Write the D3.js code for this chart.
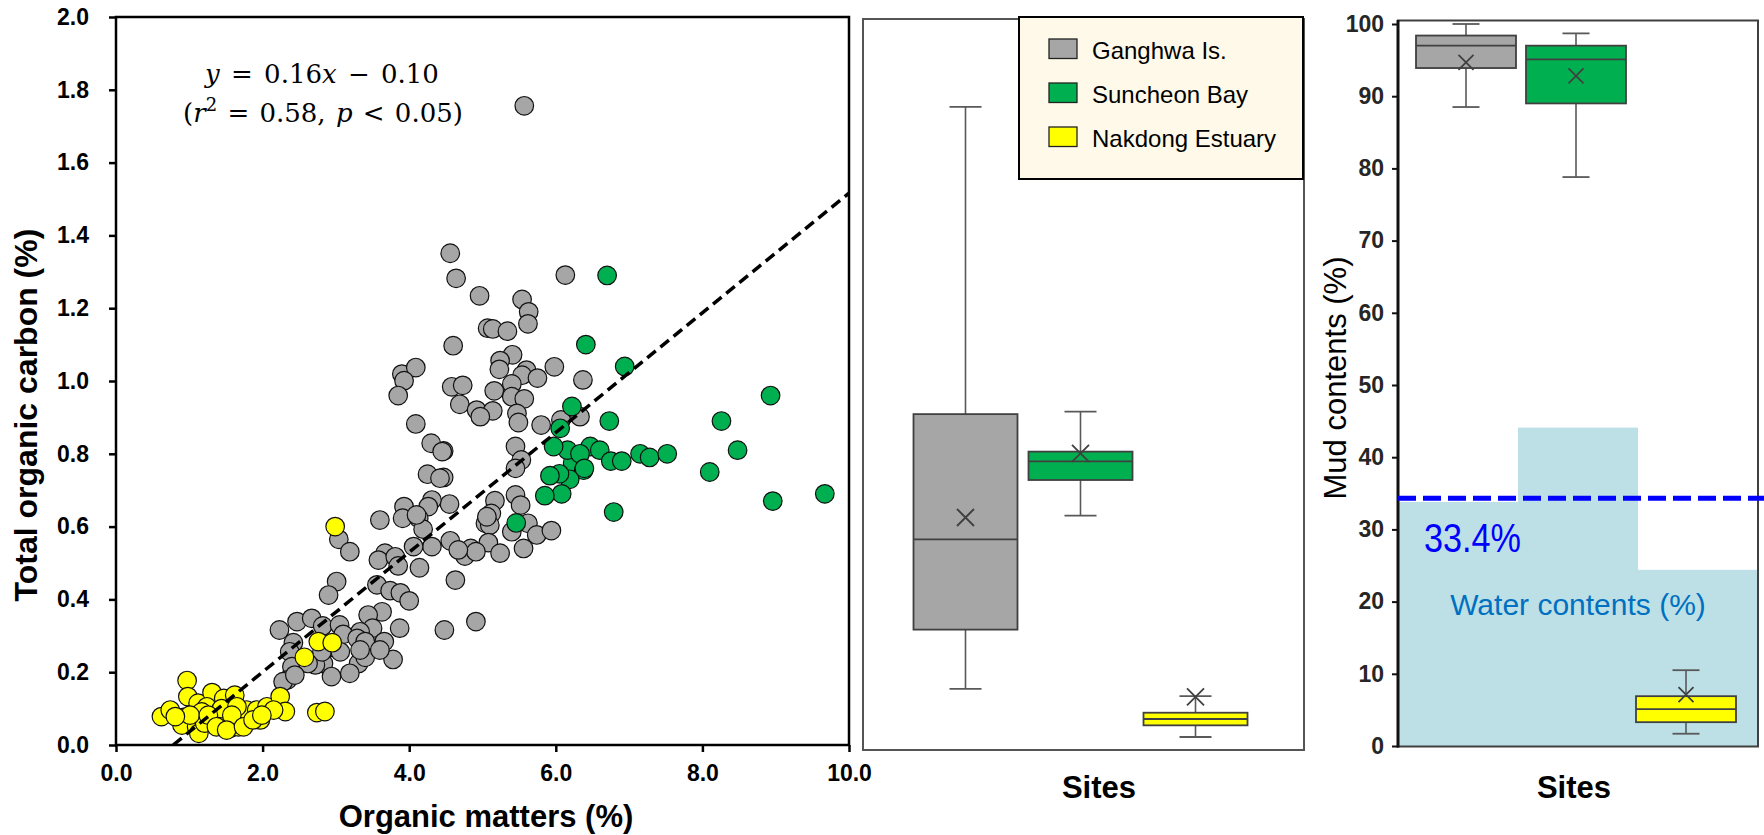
<!DOCTYPE html>
<html><head><meta charset="utf-8">
<script src="https://cdn.jsdelivr.net/npm/d3@7"></script>
<style>html,body{margin:0;padding:0;background:#fff;}svg{display:block;}</style>
</head><body>
<svg id="chart" width="1764" height="835"></svg>
<script>
// ---------- DATA ----------
const ganghwaPts = [[5.57,1.756],[4.56,1.351],[4.64,1.282],[4.96,1.234],[5.54,1.224],[5.63,1.190],[5.62,1.157],[5.07,1.145],[5.14,1.143],[5.34,1.137],[6.13,1.291],[4.60,1.097],[5.41,1.072],[5.24,1.056],[5.23,1.032],[5.60,1.030],[5.98,1.039],[5.54,1.016],[5.75,1.008],[6.37,1.003],[5.40,0.992],[4.58,0.984],[4.73,0.988],[5.16,0.973],[5.40,0.957],[5.57,0.951],[4.69,0.936],[4.92,0.920],[5.14,0.918],[4.97,0.902],[5.47,0.911],[5.49,0.886],[5.80,0.879],[6.33,0.902],[6.07,0.893],[5.45,0.820],[5.53,0.783],[5.45,0.760],[4.47,0.808],[4.47,0.735],[4.55,0.662],[5.17,0.671],[5.45,0.687],[5.52,0.659],[5.12,0.636],[5.04,0.609],[5.10,0.604],[5.40,0.586],[5.62,0.609],[5.74,0.577],[5.94,0.589],[5.08,0.556],[4.84,0.540],[4.76,0.519],[4.91,0.531],[5.24,0.527],[5.56,0.540],[4.56,0.561],[4.63,0.453],[4.48,0.316],[4.91,0.339],[3.90,1.019],[4.09,1.037],[3.93,1.001],[3.85,0.960],[4.09,0.882],[4.30,0.829],[4.45,0.806],[4.25,0.744],[4.42,0.733],[3.93,0.655],[4.31,0.673],[4.26,0.655],[3.91,0.623],[3.60,0.618],[4.13,0.623],[4.19,0.593],[4.31,0.545],[4.06,0.545],[3.67,0.527],[3.58,0.508],[3.81,0.517],[3.85,0.492],[4.14,0.487],[3.01,0.449],[2.90,0.412],[3.04,0.565],[3.19,0.531],[3.56,0.440],[3.74,0.424],[3.88,0.418],[4.00,0.396],[3.63,0.366],[3.44,0.357],[3.87,0.321],[3.50,0.321],[3.33,0.311],[2.23,0.316],[2.47,0.339],[2.67,0.348],[2.82,0.327],[3.05,0.330],[3.10,0.304],[3.29,0.293],[3.40,0.284],[3.66,0.284],[2.42,0.281],[2.92,0.268],[2.37,0.256],[2.83,0.224],[3.31,0.224],[3.40,0.241],[3.78,0.235],[3.60,0.261],[2.94,0.188],[3.19,0.197],[2.72,0.220],[2.40,0.215],[2.34,0.179],[2.28,0.174],[2.81,0.256],[3.06,0.256],[2.62,0.224],[2.44,0.192],[3.33,0.261],[4.67,0.536],[5.06,0.627],[4.10,0.632]];
const suncheonPts = [[6.70,1.29],[6.41,1.10],[6.94,1.04],[8.93,0.96],[8.26,0.89],[6.73,0.89],[8.48,0.81],[8.10,0.75],[9.67,0.69],[8.96,0.67],[6.79,0.64],[6.22,0.93],[6.47,0.82],[6.60,0.81],[6.75,0.78],[6.90,0.78],[7.15,0.80],[7.28,0.79],[7.52,0.80],[6.23,0.775],[6.38,0.755],[6.19,0.73],[6.08,0.69],[6.16,0.81],[6.06,0.87],[5.97,0.82],[6.33,0.80],[6.05,0.745],[5.92,0.74],[5.85,0.685],[5.46,0.61],[6.39,0.76]];
const nakdongPts = [[2.99,0.600],[0.97,0.177],[0.98,0.133],[0.62,0.078],[0.74,0.096],[0.92,0.076],[0.90,0.055],[1.12,0.115],[1.31,0.144],[1.47,0.128],[1.62,0.137],[1.24,0.105],[1.17,0.091],[1.35,0.073],[1.49,0.073],[1.10,0.050],[1.13,0.032],[1.21,0.060],[1.56,0.046],[1.67,0.050],[1.69,0.078],[1.78,0.096],[1.92,0.096],[2.06,0.105],[1.97,0.069],[2.24,0.133],[2.31,0.092],[2.15,0.096],[2.74,0.089],[2.85,0.092],[1.44,0.100],[1.65,0.105],[1.01,0.082],[0.81,0.078],[1.26,0.082],[1.58,0.082],[1.37,0.050],[1.51,0.041],[1.74,0.050],[1.87,0.069],[1.99,0.082],[2.57,0.241],[2.76,0.284],[2.95,0.281]];
const trendLine = [[0.78, 0], [10, 1.516]];
const omTicks = [0, 2, 4, 6, 8, 10];
const tocTicks = [0, 0.2, 0.4, 0.6, 0.8, 1.0, 1.2, 1.4, 1.6, 1.8, 2.0];

const sites = ["Ganghwa Is.", "Suncheon Bay", "Nakdong Estuary"];
const siteColors = ["#a6a6a6", "#00b050", "#ffff00"];

const tocMin    = [0.154, 0.630, 0.022];
const tocQ1     = [0.317, 0.728, 0.054];
const tocMedian = [0.565, 0.779, 0.0714];
const tocQ3     = [0.909, 0.806, 0.0887];
const tocMax    = [1.753, 0.916, 0.134];
const tocMean   = [0.625, 0.801, 0.132];

const mudMin    = [88.5, 78.8, 1.7];
const mudQ1     = [93.9, 89.0, 3.3];
const mudMedian = [97.0, 95.1, 5.1];
const mudQ3     = [98.4, 97.0, 6.9];
const mudMax    = [100, 98.7, 10.5];
const mudMean   = [94.7, 92.8, 7.1];
const mudTicks  = [0, 10, 20, 30, 40, 50, 60, 70, 80, 90, 100];

const waterContent = [33.8, 44.1, 24.4];
const waterRefLine = 34.3;
const waterRefLabel = "33.4%";

// ---------- DRAW ----------
const svg = d3.select("#chart");
const sans = "'Liberation Sans', Arial, sans-serif";

// ===== Panel 1: scatter =====
const x = d3.scaleLinear().domain([0, 10]).range([116, 849]);
const y = d3.scaleLinear().domain([0, 2]).range([745, 17]);

const gx = svg.append("g").attr("transform", "translate(0,745)")
  .call(d3.axisBottom(x).tickValues(omTicks).tickFormat(d3.format(".1f")).tickSize(7).tickPadding(13));
const gy = svg.append("g").attr("transform", "translate(116,0)")
  .call(d3.axisLeft(y).tickValues(tocTicks).tickFormat(d3.format(".1f")).tickSize(7).tickPadding(20));
[gx, gy].forEach(g => {
  g.selectAll("path.domain").remove();
  g.selectAll("line").attr("stroke", "#000").attr("stroke-width", 2.5);
  g.selectAll("text").attr("font-family", sans).attr("font-weight", "bold")
    .attr("font-size", 23).attr("fill", "#000");
});

svg.append("rect").attr("x", x(0)).attr("y", y(2)).attr("width", x(10) - x(0)).attr("height", y(0) - y(2))
  .attr("fill", "none").attr("stroke", "#000").attr("stroke-width", 2.5);

const ptGroups = [[ganghwaPts, siteColors[0]], [suncheonPts, siteColors[1]], [nakdongPts, siteColors[2]]];
ptGroups.forEach(([pts, col]) => {
  svg.append("g").selectAll("circle").data(pts).join("circle")
    .attr("cx", d => x(d[0])).attr("cy", d => y(d[1])).attr("r", 9.3)
    .attr("fill", col).attr("stroke", "#111").attr("stroke-width", 1.2);
});

svg.append("path").datum(trendLine)
  .attr("d", d3.line().x(d => x(d[0])).y(d => y(d[1])))
  .attr("fill", "none").attr("stroke", "#000").attr("stroke-width", 3.5).attr("stroke-dasharray", "11,6");

// equation
const serif = "'DejaVu Serif', 'Liberation Serif', serif";
const eq1 = svg.append("text").attr("x", 322).attr("y", 83).attr("text-anchor", "middle")
  .attr("font-family", serif).attr("font-size", 26).attr("word-spacing", 3);
eq1.append("tspan").attr("font-style", "italic").text("y");
eq1.append("tspan").text(" = 0.16");
eq1.append("tspan").attr("font-style", "italic").text("x");
eq1.append("tspan").text(" \u2212 0.10");
const eq2 = svg.append("text").attr("x", 323).attr("y", 122).attr("text-anchor", "middle")
  .attr("font-family", serif).attr("font-size", 26).attr("word-spacing", 2);
eq2.append("tspan").text("(");
eq2.append("tspan").attr("font-style", "italic").text("r");
eq2.append("tspan").attr("font-size", 18).attr("dy", -11).text("2");
eq2.append("tspan").attr("dy", 11).text(" = 0.58, ");
eq2.append("tspan").attr("font-style", "italic").text("p");
eq2.append("tspan").text(" < 0.05)");

svg.append("text").attr("x", 486).attr("y", 827).attr("text-anchor", "middle")
  .attr("font-family", sans).attr("font-weight", "bold").attr("font-size", 31).text("Organic matters (%)");
svg.append("text").attr("transform", "translate(37,415) rotate(-90)").attr("text-anchor", "middle")
  .attr("font-family", sans).attr("font-weight", "bold").attr("font-size", 32).text("Total organic carbon (%)");

// ===== box plot helper =====
function drawBoxes(g, xs, ys, boxW, capW, xSize, stats) {
  sites.forEach((s, i) => {
    const cx = xs(s) + xs.bandwidth() / 2;
    const gg = g.append("g");
    gg.append("line").attr("x1", cx).attr("x2", cx).attr("y1", ys(stats.max[i])).attr("y2", ys(stats.q3[i]))
      .attr("stroke", "#595959").attr("stroke-width", 1.6);
    gg.append("line").attr("x1", cx).attr("x2", cx).attr("y1", ys(stats.q1[i])).attr("y2", ys(stats.min[i]))
      .attr("stroke", "#595959").attr("stroke-width", 1.6);
    [stats.max[i], stats.min[i]].forEach(v => {
      gg.append("line").attr("x1", cx - capW / 2).attr("x2", cx + capW / 2).attr("y1", ys(v)).attr("y2", ys(v))
        .attr("stroke", "#595959").attr("stroke-width", 1.8);
    });
    gg.append("rect").attr("x", cx - boxW / 2).attr("y", ys(stats.q3[i])).attr("width", boxW)
      .attr("height", ys(stats.q1[i]) - ys(stats.q3[i]))
      .attr("fill", siteColors[i]).attr("stroke", "#404040").attr("stroke-width", 1.8);
    gg.append("line").attr("x1", cx - boxW / 2).attr("x2", cx + boxW / 2)
      .attr("y1", ys(stats.med[i])).attr("y2", ys(stats.med[i]))
      .attr("stroke", "#404040").attr("stroke-width", 1.8);
    const my = ys(stats.mean[i]);
    gg.append("path").attr("d", `M${cx - xSize},${my - xSize}L${cx + xSize},${my + xSize}M${cx - xSize},${my + xSize}L${cx + xSize},${my - xSize}`)
      .attr("stroke", "#404040").attr("stroke-width", 1.8).attr("fill", "none");
  });
}

// ===== Panel 2: TOC box plots =====
svg.append("rect").attr("x", 863).attr("y", 19).attr("width", 441).attr("height", 731)
  .attr("fill", "#fff").attr("stroke", "#555").attr("stroke-width", 2);
const xs2 = d3.scaleBand().domain(sites).range([908, 1253]);
drawBoxes(svg.append("g"), xs2, y, 104, 32, 8.5,
  {min: tocMin, q1: tocQ1, med: tocMedian, q3: tocQ3, max: tocMax, mean: tocMean});

// legend
const lg = svg.append("g");
lg.append("rect").attr("x", 1019).attr("y", 17).attr("width", 284).attr("height", 162)
  .attr("fill", "#fef9e8").attr("stroke", "#000").attr("stroke-width", 2);
sites.forEach((s, i) => {
  const by = 58.5 + i * 44;
  lg.append("rect").attr("x", 1049).attr("y", by - 19.5).attr("width", 28).attr("height", 19.5)
    .attr("fill", siteColors[i]).attr("stroke", "#222").attr("stroke-width", 1.3);
  lg.append("text").attr("x", 1092).attr("y", by).attr("font-family", sans).attr("font-size", 24)
    .attr("fill", "#000").text(s);
});
svg.append("text").attr("x", 1099).attr("y", 798).attr("text-anchor", "middle")
  .attr("font-family", sans).attr("font-weight", "bold").attr("font-size", 31).text("Sites");

// ===== Panel 3: Mud contents =====
const yM = d3.scaleLinear().domain([0, 100]).range([746, 24]);
const xW = d3.scaleBand().domain(sites).range([1398, 1758]);
const xs3 = d3.scaleBand().domain(sites).range([1411, 1741]);

svg.append("g").selectAll("rect").data(waterContent).join("rect")
  .attr("x", (d, i) => xW(sites[i])).attr("width", xW.bandwidth())
  .attr("y", d => yM(d)).attr("height", d => yM(0) - yM(d))
  .attr("fill", "#bde0e7");

svg.append("rect").attr("x", 1398).attr("y", 20.5).attr("width", 360).attr("height", 726)
  .attr("fill", "none").attr("stroke", "#404040").attr("stroke-width", 2);

drawBoxes(svg.append("g"), xs3, yM, 100, 27, 7.5,
  {min: mudMin, q1: mudQ1, med: mudMedian, q3: mudQ3, max: mudMax, mean: mudMean});

const gm = svg.append("g").attr("transform", "translate(1398,0)")
  .call(d3.axisLeft(yM).tickValues(mudTicks).tickSize(6).tickPadding(8));
gm.select("path.domain").remove();
gm.selectAll("line").attr("stroke", "#111").attr("stroke-width", 2);
gm.selectAll("text").attr("font-family", sans).attr("font-weight", "bold").attr("font-size", 23).attr("fill", "#262626");
svg.append("line").attr("x1", 1398).attr("x2", 1398).attr("y1", 20).attr("y2", 747.5)
  .attr("stroke", "#111").attr("stroke-width", 3);

svg.append("line").attr("x1", 1398).attr("x2", 1764).attr("y1", yM(waterRefLine)).attr("y2", yM(waterRefLine))
  .attr("stroke", "#0000ff").attr("stroke-width", 5).attr("stroke-dasharray", "18,7");
svg.append("text").attr("x", 1424).attr("y", 552).attr("font-family", sans).attr("font-size", 40)
  .attr("fill", "#0000ff").attr("textLength", 97).attr("lengthAdjust", "spacingAndGlyphs").text(waterRefLabel);
svg.append("text").attr("x", 1578).attr("y", 615).attr("text-anchor", "middle").attr("font-family", sans)
  .attr("font-size", 30).attr("fill", "#0070c0").text("Water contents (%)");

svg.append("text").attr("transform", "translate(1346,378) rotate(-90)").attr("text-anchor", "middle")
  .attr("font-family", sans).attr("font-size", 31).attr("fill", "#000").text("Mud contents (%)");
svg.append("text").attr("x", 1574).attr("y", 798).attr("text-anchor", "middle")
  .attr("font-family", sans).attr("font-weight", "bold").attr("font-size", 31).text("Sites");
</script>
</body></html>
